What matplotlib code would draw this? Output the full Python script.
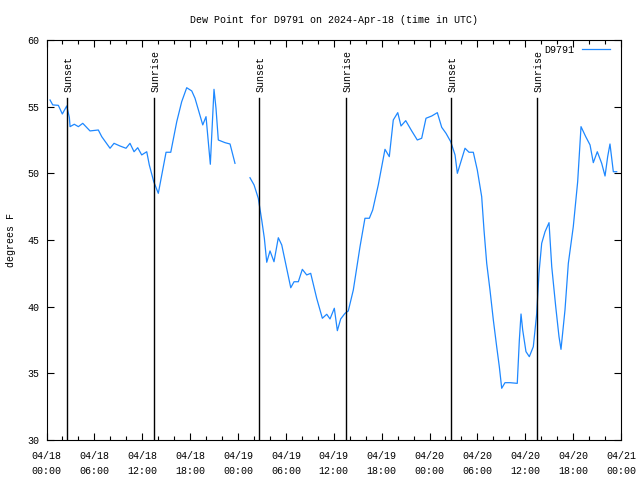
import numpy as np
import matplotlib
matplotlib.use("Agg")
import matplotlib.pyplot as plt
from matplotlib.ticker import MultipleLocator

plt.rcParams['font.family'] = ['Liberation Mono', 'DejaVu Sans Mono']
plt.rcParams['font.size'] = 7.2

# hours since 2024-04-18 00:00 UTC, dew point (F); nan marks a gap in the record
hours = [0.44, 0.78, 1.48, 1.98, 2.53, 2.86, 2.95, 3.48, 3.99, 4.54, 5.45, 6.49,
         6.92, 7.96, 8.46, 9.21, 9.96, 10.46, 10.97, 11.43, 11.93, 12.56, 12.88,
         13.44, 14.01, 14.98, 15.57, 16.32, 16.94, 17.57, 18.20, 18.61, 19.58,
         19.99, 20.53, 20.99, 21.24, 21.53, 22.37, 23.00, 23.62, 24.5,
         25.50, 26.01, 26.54, 26.97, 27.30, 27.60, 28.01, 28.51, 29.05, 29.48,
         30.10, 30.61, 31.02, 31.56, 32.06, 32.61, 33.11, 33.86, 34.57, 35.12,
         35.53, 36.07, 36.45, 36.87, 37.41, 37.82, 38.45, 39.29, 39.91, 40.46,
         40.88, 41.58, 42.42, 42.96, 43.46, 44.02, 44.43, 45.02, 45.77, 46.47,
         47.02, 47.56, 48.28, 48.98, 49.53, 50.07, 50.66, 51.20, 51.49, 52.45,
         52.95, 53.49, 53.99, 54.54, 54.83, 55.17, 55.58, 56.00, 56.42, 56.75,
         57.05, 57.46, 58.09, 59.00, 59.26, 59.47, 59.68, 60.09, 60.51, 61.01,
         61.44, 61.72, 62.06, 62.48, 62.98, 63.32, 63.82, 64.23, 64.48, 64.98,
         65.40, 66.02, 66.57, 66.99, 67.58, 68.12, 68.53, 69.03, 69.58, 70.00,
         70.33, 70.62, 71.04, 71.46]
dewpoint = [55.50, 55.13, 55.10, 54.45, 55.05, 54.20, 53.50, 53.68, 53.50, 53.75,
            53.18, 53.25, 52.75, 51.88, 52.25, 52.05, 51.88, 52.25, 51.62, 51.92,
            51.38, 51.62, 50.63, 49.37, 48.50, 51.58, 51.58, 53.87, 55.37, 56.42,
            56.18, 55.63, 53.63, 54.25, 50.68, 56.30, 54.88, 52.50, 52.30, 52.20,
            50.75, np.nan,
            49.67, 49.13, 48.13, 46.50, 45.13, 43.33, 44.18, 43.37, 45.17, 44.63,
            42.88, 41.42, 41.87, 41.87, 42.80, 42.38, 42.50, 40.63, 39.13, 39.43,
            39.08, 39.88, 38.20, 39.08, 39.50, 39.68, 41.25, 44.50, 46.63, 46.63,
            47.25, 49.13, 51.80, 51.25, 54.00, 54.55, 53.55, 53.95, 53.18, 52.50,
            52.63, 54.13, 54.30, 54.55, 53.45, 53.00, 52.37, 51.38, 50.00, 51.88,
            51.58, 51.58, 50.25, 48.25, 45.75, 43.25, 41.25, 39.00, 37.00, 35.50,
            33.88, 34.30, 34.30, 34.25, 37.50, 39.45, 38.25, 36.63, 36.25, 37.00,
            39.50, 42.50, 44.75, 45.62, 46.30, 43.00, 40.00, 37.75, 36.80, 39.75,
            43.25, 46.00, 49.37, 53.50, 52.75, 52.13, 50.80, 51.62, 50.75, 49.80,
            51.25, 52.20, 50.12, 50.12]

sun_hours = [2.60, 13.52, 26.65, 37.52, 50.70, 61.50]
sun_labels = ['Sunset', 'Sunrise', 'Sunset', 'Sunrise', 'Sunset', 'Sunrise']

tick_hours = list(range(0, 73, 6))
tick_labels = ['04/18\n00:00', '04/18\n06:00', '04/18\n12:00', '04/18\n18:00',
               '04/19\n00:00', '04/19\n06:00', '04/19\n12:00', '04/19\n18:00',
               '04/20\n00:00', '04/20\n06:00', '04/20\n12:00', '04/20\n18:00',
               '04/21\n00:00']

fig = plt.figure(figsize=(6.4, 4.8), dpi=100)
ax = fig.add_axes([0.0727, 0.0833, 0.8976, 0.8334])

ax.plot(hours, dewpoint, color='#1e88ff', lw=0.9, label='D9791')

for h, lab in zip(sun_hours, sun_labels):
    ax.plot([h, h], [30, 55.65], color='black', lw=1.0)
    ax.text(h + 0.15, 56.1, lab, rotation=90, ha='center', va='bottom')

ax.set_xlim(0, 72)
ax.set_ylim(30, 60)
ax.set_xticks(tick_hours)
ax.set_xticklabels(tick_labels, linespacing=1.6)
ax.xaxis.set_minor_locator(MultipleLocator(2))
ax.set_yticks(range(30, 61, 5))
ax.tick_params(which='both', direction='in', top=True, right=True, width=0.8)
ax.tick_params(which='major', length=5)
ax.tick_params(which='minor', length=3)
ax.tick_params(axis='x', pad=8)
ax.tick_params(axis='y', pad=5)
for s in ax.spines.values():
    s.set_linewidth(0.8)

ax.set_title('Dew Point for D9791 on 2024-Apr-18 (time in UTC)', fontsize=7.2, pad=12)
ax.set_ylabel('degrees F', labelpad=8)

leg = ax.legend(loc='upper right', bbox_to_anchor=(0.99, 1.0), frameon=False,
                markerfirst=False, handlelength=2.8, borderaxespad=0.1,
                handletextpad=0.8)

fig.savefig('out.png', dpi=100)
